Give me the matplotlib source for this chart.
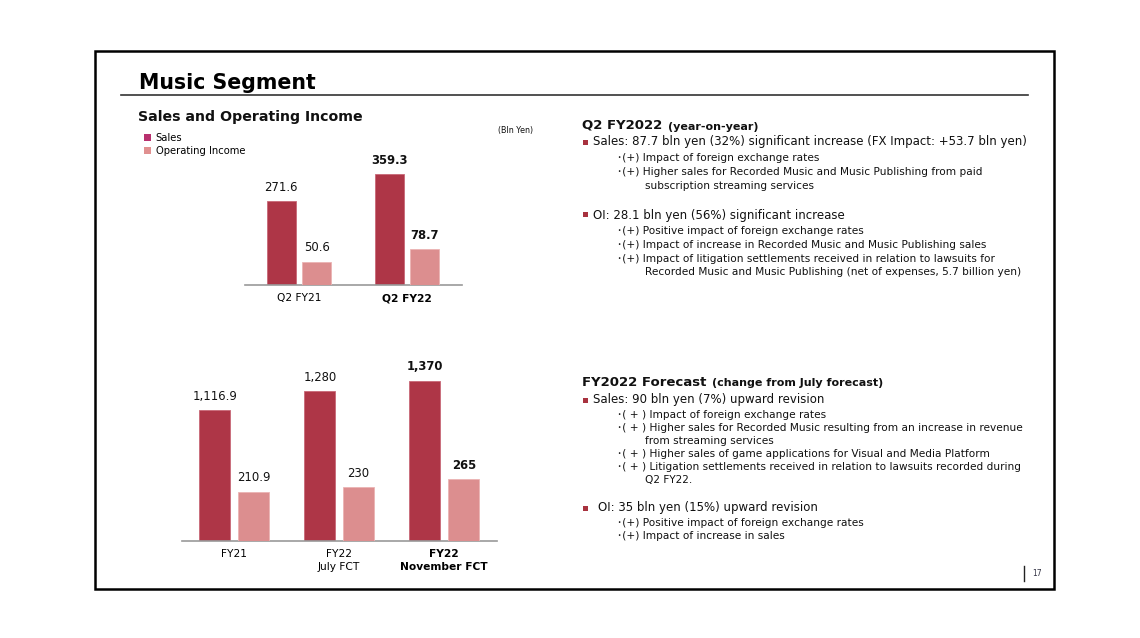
import matplotlib
matplotlib.use("Agg")
import matplotlib.pyplot as plt
from matplotlib.patches import Rectangle, Patch
from matplotlib.lines import Line2D

# ---------------- data ----------------
q_categories = ["Q2 FY21", "Q2 FY22"]
q_sales = [271.6, 359.3]
q_oi = [50.6, 78.7]
q_sales_labels = ["271.6", "359.3"]
q_oi_labels = ["50.6", "78.7"]

fy_categories = ["FY21", "FY22\nJuly FCT", "FY22\nNovember FCT"]
fy_sales = [1116.9, 1280, 1370]
fy_oi = [210.9, 230, 265]
fy_sales_labels = ["1,116.9", "1,280", "1,370"]
fy_oi_labels = ["210.9", "230", "265"]

series_names = ["Sales", "Operating Income"]

W, H = 1140, 638
SALES_C = "#AE3647"
OI_C = "#DC8E8F"
LEG_SALES_C = "#B8306E"
LEG_OI_C = "#E09090"
BUL_C = "#A8323F"
TXT = "#111111"

plt.rcParams['font.family'] = ['DejaVu Sans', 'Noto Sans CJK JP']

fig = plt.figure(figsize=(W / 100, H / 100), dpi=100)
fig.patch.set_facecolor("white")


def fx(x):
    return x / W


def fy(y):
    return 1 - y / H


def ftext(x, y, s, **kw):
    kw.setdefault("va", "center")
    kw.setdefault("ha", "left")
    kw.setdefault("color", TXT)
    return fig.text(fx(x), fy(y), s, **kw)


# ---------------- frame ----------------
fig.add_artist(Rectangle((fx(95), fy(589)), fx(1054) - fx(95), fy(51) - fy(589),
                         transform=fig.transFigure, fill=False, lw=1.8, ec="black"))
fig.add_artist(Line2D([fx(121), fx(1028)], [fy(95), fy(95)], transform=fig.transFigure,
                      color="#333333", lw=1.2))
ftext(139, 83, "Music Segment", fontsize=14.8, fontweight="bold", color="black")
ftext(138, 117, "Sales and Operating Income", fontsize=10.2, fontweight="bold")
ftext(533, 131, "(Bln Yen)", fontsize=5.8, ha="right")

# legend
leg_handles = [Patch(facecolor=LEG_SALES_C, edgecolor="none"),
               Patch(facecolor=LEG_OI_C, edgecolor="none")]
fig.legend(leg_handles, series_names, loc="upper left",
           bbox_to_anchor=(fx(144), fy(133)), frameon=False, fontsize=7.2,
           handlelength=0.72, handleheight=0.72, handletextpad=0.45,
           labelspacing=0.28, borderpad=0, borderaxespad=0)


def bar_chart(rect_px, cats, sales, oi, s_lab, o_lab, s_top, o_top, xlim,
              width, offset, bold_last, labelsize=8.4):
    x0, y0, x1, y1 = rect_px  # left, top, right, bottom (pixels)
    ax = fig.add_axes([fx(x0), fy(y1), fx(x1) - fx(x0), fy(y0) - fy(y1)])
    ax2 = ax.twinx()
    xs = list(range(len(cats)))
    ax.bar([x - offset for x in xs], sales, width=width, color=SALES_C,
           edgecolor="#C86878", linewidth=0.6)
    ax2.bar([x + offset for x in xs], oi, width=width, color=OI_C,
            edgecolor="#EBB4B4", linewidth=0.6)
    ax.set_ylim(0, s_top)
    ax2.set_ylim(0, o_top)
    ax.set_xlim(*xlim)
    for a in (ax, ax2):
        a.set_facecolor("none")
        for sp in a.spines.values():
            sp.set_visible(False)
        a.set_yticks([])
    ax.spines["bottom"].set_visible(True)
    ax.spines["bottom"].set_color("#999999")
    ax.spines["bottom"].set_linewidth(1.2)
    ax.set_xticks(xs)
    ax.set_xticklabels(cats, fontsize=7.7, linespacing=1.3)
    ax.tick_params(axis="x", length=0, pad=6)
    n = len(cats)
    for i in range(n):
        fw = "bold" if (bold_last and i == n - 1) else "normal"
        ax.annotate(s_lab[i], (i - offset, sales[i]), xytext=(0, 10),
                    textcoords="offset points", ha="center", va="center",
                    fontsize=labelsize, fontweight=fw, color=TXT)
        ax2.annotate(o_lab[i], (i + offset, oi[i]), xytext=(0, 10),
                     textcoords="offset points", ha="center", va="center",
                     fontsize=labelsize, fontweight=fw, color=TXT)
    ax.get_xticklabels()[-1].set_fontweight("bold" if bold_last else "normal")
    return ax


# top chart: baseline y=285, x 245..462, top at y=150 (135 px)
bar_chart((245, 150, 462, 285), q_categories, q_sales, q_oi,
          q_sales_labels, q_oi_labels, s_top=135 / 0.3081, o_top=135 / 0.457,
          xlim=(-0.5, 1.509), width=0.264, offset=0.164, bold_last=True)

# bottom chart: baseline y=541, x 182..497, top at y=360 (181 px)
bar_chart((182, 360, 497, 541), fy_categories, fy_sales, fy_oi,
          fy_sales_labels, fy_oi_labels, s_top=181 / 0.117, o_top=181 / 0.2335,
          xlim=(-0.497, 2.502), width=0.295, offset=0.185, bold_last=True)

# ---------------- right-side text ----------------
MAIN = 8.5
SUB = 7.6


def heading(x, y, big, small):
    t = ftext(x, y, big, fontsize=9.5, fontweight="bold", va="baseline")
    ann = plt.annotate(small, xy=(1, 0), xycoords=t, xytext=(4, 0),
                       textcoords="offset points", va="bottom", ha="left",
                       fontsize=8, fontweight="bold", color=TXT,
                       annotation_clip=False)
    return ann


def bullet(x, y):
    fig.add_artist(Rectangle((fx(x), fy(y + 2.5)), 5 / W, 5 / H,
                             transform=fig.transFigure, color=BUL_C, lw=0))


heading(582, 128.5, "Q2 FY2022", "(year-on-year)")
bullet(583, 142)
ftext(593, 142, "Sales: 87.7 bln yen (32%) significant increase (FX Impact: +53.7 bln yen)",
      fontsize=MAIN)
sub1 = [
    (617, 158, "･(+) Impact of foreign exchange rates"),
    (617, 172, "･(+) Higher sales for Recorded Music and Music Publishing from paid"),
    (645, 186, "subscription streaming services"),
]
for x, y, s in sub1:
    ftext(x, y, s, fontsize=SUB)
bullet(583, 215)
ftext(593, 215, "OI: 28.1 bln yen (56%) significant increase", fontsize=MAIN)
sub2 = [
    (617, 231, "･(+) Positive impact of foreign exchange rates"),
    (617, 245, "･(+) Impact of increase in Recorded Music and Music Publishing sales"),
    (617, 259, "･(+) Impact of litigation settlements received in relation to lawsuits for"),
    (645, 272, "Recorded Music and Music Publishing (net of expenses, 5.7 billion yen)"),
]
for x, y, s in sub2:
    ftext(x, y, s, fontsize=SUB)

heading(582, 385.5, "FY2022 Forecast", "(change from July forecast)")
bullet(583, 400)
ftext(593, 400, "Sales: 90 bln yen (7%) upward revision", fontsize=MAIN)
sub3 = [
    (617, 415, "･( + ) Impact of foreign exchange rates"),
    (617, 428, "･( + ) Higher sales for Recorded Music resulting from an increase in revenue"),
    (645, 441, "from streaming services"),
    (617, 454, "･( + ) Higher sales of game applications for Visual and Media Platform"),
    (617, 467, "･( + ) Litigation settlements received in relation to lawsuits recorded during"),
    (645, 480, "Q2 FY22."),
]
for x, y, s in sub3:
    ftext(x, y, s, fontsize=SUB)
bullet(583, 508)
ftext(598, 508, "OI: 35 bln yen (15%) upward revision", fontsize=MAIN)
sub4 = [
    (617, 523, "･(+) Positive impact of foreign exchange rates"),
    (617, 536, "･(+) Impact of increase in sales"),
]
for x, y, s in sub4:
    ftext(x, y, s, fontsize=SUB)

# page number
fig.add_artist(Line2D([fx(1024), fx(1024)], [fy(566), fy(581)], transform=fig.transFigure,
                      color="#222222", lw=1.0))
ftext(1032, 574, "17", fontsize=5.5, color="#333344")

fig.savefig("out.png", dpi=100, facecolor="white")
